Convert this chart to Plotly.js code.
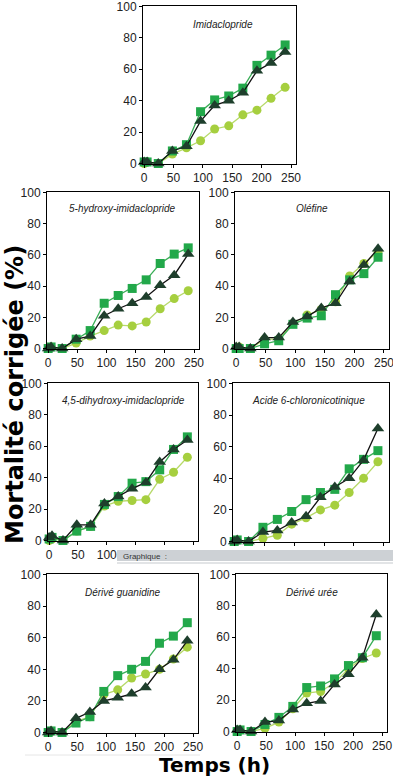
<!DOCTYPE html>
<html><head><meta charset="utf-8">
<script src="https://cdn.plot.ly/plotly-3.0.1.min.js"></script>
<style>html,body{margin:0;padding:0;background:#fff}#chart{width:393px;height:777px}</style>
</head><body><div id="chart"></div>
<script>
const hours = [0, 5, 24, 48, 72, 96, 120, 144, 168, 192, 216, 240];
const panelTitles = ["Imidaclopride", "5-hydroxy-imidaclopride", "Oléfine", "4,5-dihydroxy-imidaclopride", "Acide 6-chloronicotinique", "Dérivé guanidine", "Dérivé urée"];
const xTicks = [0, 50, 100, 150, 200, 250];
const yTicks = [0, 20, 40, 60, 80, 100];

// circles (light green)
const circles = [
  [0, 1, 0, 6, 10, 14.5, 22, 24, 31, 34, 41.5, 48.5],
  [0, 1, 0, 3.5, 8, 11.5, 15, 14.5, 17, 25.5, 32, 37],
  [0, 1, 0, 6, 6, 16, 21.5, 25, 30, 46.5, 54.5, 62],
  [0, 1, 0, 6, 9, 22, 25, 25.5, 26, 39, 43.5, 53],
  [0, 1, 0, 2, 4, 11, 15, 20, 23, 31, 40, 50.5],
  [0, 1, 0, 7, 10, 24, 27, 34.5, 37, 40, 46.5, 54],
  [0, 1, 0, 2, 6, 14.5, 24.5, 25.5, 31, 40, 46.5, 50]
];
// squares (medium green)
const squares = [
  [1, 1, 0, 8, 12, 33, 40.5, 43, 48, 62.5, 69, 75.5],
  [0, 1, 0, 6, 11.5, 29, 34, 38.5, 44, 54.5, 60.5, 64.5],
  [0, 0, 0, 3, 5, 15.5, 19.5, 21, 34.5, 44, 48, 58.5],
  [1, 2, 0, 6, 9, 23, 28, 36.5, 37.5, 45, 58, 66],
  [0, 1, 0, 9, 14, 19, 26.5, 31, 33, 46, 52, 57.5],
  [0, 1, 0, 6, 10, 26, 36, 40, 45, 56.5, 61, 69.5],
  [0, 1, 0, 4.5, 9, 16, 28, 29, 33.5, 42, 47, 61]
];
// triangles (dark)
const triangles = [
  [1, 1, 0, 8, 11, 27, 37, 40, 45, 59, 64, 71],
  [0, 1, 0, 6, 8, 21, 25.5, 29, 33, 40.5, 47, 60.5],
  [1, 1, 0, 7, 7, 17, 20.5, 26, 29, 43, 53.5, 64],
  [2, 3, 0, 10, 10, 23.5, 28, 33, 37, 50, 58, 64],
  [0, 1, 0, 6, 7, 12, 16, 28, 34.5, 40, 51.5, 71.5],
  [0, 1, 0, 9, 13, 20, 22, 24.5, 28.5, 40, 46, 58],
  [1, 1, 0, 6, 7, 14, 18, 19.5, 30, 36.5, 47, 74.5]
];

// panel boxes in pixels: [left, right, top, bottom]
const W = 393, H = 777;
const boxes = [
  [143, 296, 6, 164],
  [47, 199, 192, 349],
  [235, 389, 192, 349],
  [48, 198, 383, 541],
  [233, 389, 383, 542],
  [47, 198, 574, 733],
  [236, 387, 574, 732]
];
const titlePos = [[223, 25], [122, 208], [312, 208], [123, 400], [308, 400], [122, 592], [312, 592]];

const traces = [];
const layout = {
  width: W, height: H, margin: {l: 0, r: 0, t: 0, b: 0},
  paper_bgcolor: '#fff', plot_bgcolor: '#fff', showlegend: false,
  font: {family: 'Liberation Sans, Arial, sans-serif', color: '#222'},
  annotations: [], shapes: []
};
const series = [
  {data: circles, sym: 'circle', size: 9, fill: '#a6cf3f', line: '#b7da6a', lw: 1.3},
  {data: squares, sym: 'square', size: 9, fill: '#22a84a', line: '#3aae57', lw: 1.3},
  {data: triangles, sym: 'triangle-up', size: 11, fill: '#1e3f2c', line: '#111', lw: 1.3}
];
boxes.forEach((b, i) => {
  const n = i === 0 ? '' : String(i + 1);
  series.forEach(s => {
    traces.push({
      x: hours, y: s.data[i], xaxis: 'x' + n, yaxis: 'y' + n,
      type: 'scatter', mode: 'lines+markers', cliponaxis: false,
      line: {color: s.line, width: s.lw},
      marker: {symbol: s.sym, size: s.size, color: s.fill, line: {width: 0}}
    });
  });
  const axCommon = {showline: true, mirror: true, linecolor: '#000', linewidth: 1,
    ticks: 'outside', ticklen: 3, tickcolor: '#000', showgrid: false, zeroline: false,
    ticklabeloverflow: 'allow',
    tickfont: {size: 12, color: '#222', family: 'Liberation Sans, Arial, sans-serif'}, fixedrange: true};
  layout['xaxis' + n] = Object.assign({}, axCommon, {
    domain: [b[0] / W, b[1] / W], range: [-2, 258.5], tickvals: xTicks,
    anchor: 'y' + n
  });
  layout['yaxis' + n] = Object.assign({}, axCommon, {
    domain: [1 - b[3] / H, 1 - b[2] / H], range: [-0.3, 100.3], tickvals: yTicks,
    anchor: 'x' + n
  });
  layout.annotations.push({
    text: '<i>' + panelTitles[i] + '</i>', xref: 'paper', yref: 'paper',
    x: titlePos[i][0] / W, y: 1 - titlePos[i][1] / H, showarrow: false,
    xanchor: 'center', yanchor: 'middle',
    font: {size: 10, color: '#222', family: 'Liberation Sans, Arial, sans-serif'}
  });
});

// axis titles
layout.annotations.push({
  text: '<b>Mortalité corrigée (%)</b>', xref: 'paper', yref: 'paper',
  x: 15 / W, y: 1 - 395 / H, showarrow: false, textangle: -90,
  xanchor: 'center', yanchor: 'middle',
  font: {size: 24, color: '#000', family: 'DejaVu Sans, sans-serif'}
});
layout.annotations.push({
  text: '<b>Temps (h)</b>', xref: 'paper', yref: 'paper',
  x: 215 / W, y: 1 - 765 / H, showarrow: false,
  xanchor: 'center', yanchor: 'middle',
  font: {size: 20, color: '#000', family: 'DejaVu Sans, sans-serif'}
});
// gray "Graphique :" bar overlay
layout.shapes.push({type: 'rect', xref: 'paper', yref: 'paper', layer: 'above',
  x0: 117 / W, x1: 1, y0: 1 - 561 / H, y1: 1 - 550 / H,
  fillcolor: '#cdd1d5', line: {width: 0}});
layout.shapes.push({type: 'line', xref: 'paper', yref: 'paper', layer: 'above',
  x0: 117 / W, x1: 1, y0: 1 - 563 / H, y1: 1 - 563 / H,
  line: {color: '#e2e4e6', width: 2}});
layout.annotations.push({
  text: 'Graphique  :', xref: 'paper', yref: 'paper',
  x: 121 / W, y: 1 - 556 / H, showarrow: false, xanchor: 'left', yanchor: 'middle',
  font: {size: 8, color: '#333', family: 'Liberation Sans, Arial, sans-serif'}
});
layout.shapes.push({type: 'line', xref: 'paper', yref: 'paper', layer: 'above',
  x0: 25 / W, x1: 200 / W, y0: 1 - 755 / H, y1: 1 - 755 / H,
  line: {color: '#e6e6e6', width: 1}});

Plotly.newPlot('chart', traces, layout, {staticPlot: true, displayModeBar: false});
</script></body></html>
